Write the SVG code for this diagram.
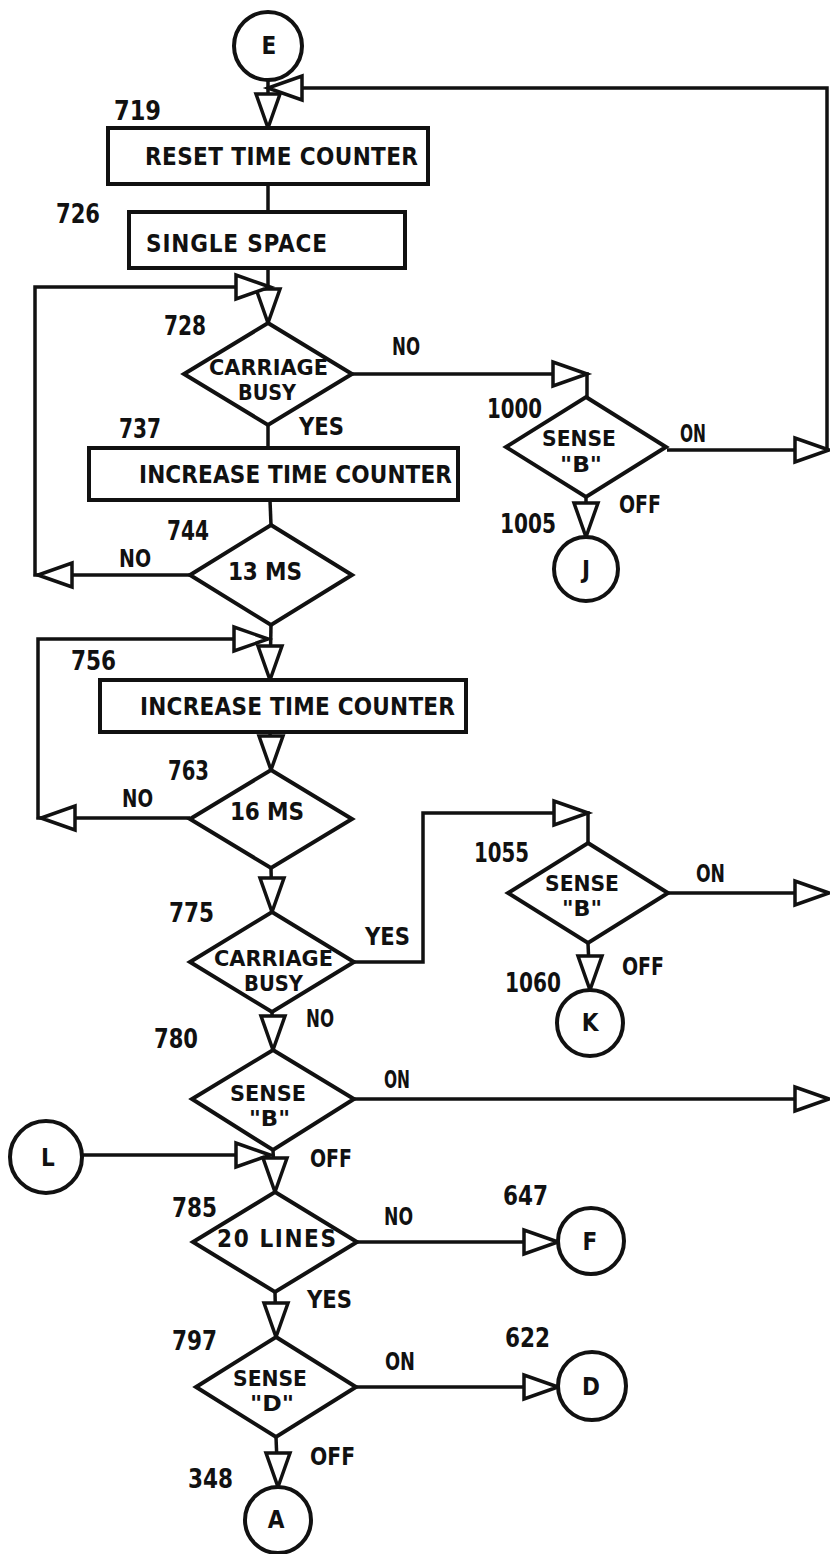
<svg xmlns="http://www.w3.org/2000/svg" xmlns:xlink="http://www.w3.org/1999/xlink" width="830" height="1554" viewBox="0 0 830 1554">
<style>
.sh{fill:#fff;stroke:#111;stroke-width:4}
.ln{fill:none;stroke:#111;stroke-width:3.5}
.ah{fill:#fff;stroke:#111;stroke-width:3.5;stroke-linejoin:miter}
text{font-family:"Liberation Sans Narrow","DejaVu Sans Condensed","Liberation Sans",sans-serif;font-weight:bold;fill:#111}
.t{font-size:24px}
.d{font-size:22px}
.n{font-size:26px}
.c{font-size:24px;text-anchor:middle}
</style>
<defs>
<polygon id="ah" class="ah" points="0,0 -34,-12 -34,12"/>
</defs>
<rect x="0" y="0" width="830" height="1554" fill="#fff"/>

<g id="connectors">
<line class="ln" x1="268" y1="80" x2="268" y2="128"/>
<polyline class="ln" points="667,450 827,450 827,88 270,88"/>
<line class="ln" x1="268" y1="184" x2="268" y2="212"/>
<line class="ln" x1="268" y1="268" x2="268" y2="323"/>
<polyline class="ln" points="190,575 35,575 35,287 268,287"/>
<polyline class="ln" points="352,374 587,374 587,397"/>
<line class="ln" x1="268" y1="425" x2="268" y2="448"/>
<line class="ln" x1="270" y1="500" x2="271" y2="525"/>
<line class="ln" x1="271" y1="625" x2="270" y2="680"/>
<polyline class="ln" points="190,818 38,818 38,639 268,639"/>
<line class="ln" x1="270" y1="732" x2="271" y2="770"/>
<line class="ln" x1="271" y1="868" x2="272" y2="912"/>
<polyline class="ln" points="354,962 423,962 423,813 588,813 588,843"/>
<line class="ln" x1="668" y1="893" x2="829" y2="893"/>
<line class="ln" x1="588" y1="943" x2="590" y2="990"/>
<line class="ln" x1="272" y1="1012" x2="273" y2="1050"/>
<line class="ln" x1="354" y1="1099" x2="829" y2="1099"/>
<line class="ln" x1="82" y1="1155" x2="270" y2="1155"/>
<line class="ln" x1="273" y1="1150" x2="275" y2="1192"/>
<line class="ln" x1="357" y1="1242" x2="558" y2="1242"/>
<line class="ln" x1="275" y1="1292" x2="276" y2="1337"/>
<line class="ln" x1="356" y1="1387" x2="558" y2="1387"/>
<line class="ln" x1="276" y1="1437" x2="278" y2="1487"/>
<line class="ln" x1="586" y1="497" x2="586" y2="537"/>
<use xlink:href="#ah" transform="translate(268,128) rotate(90)"/>
<use xlink:href="#ah" transform="translate(268,88) rotate(180)"/>
<use xlink:href="#ah" transform="translate(829,450)"/>
<use xlink:href="#ah" transform="translate(268,323) rotate(90)"/>
<use xlink:href="#ah" transform="translate(270,287)"/>
<use xlink:href="#ah" transform="translate(38,575) rotate(180)"/>
<use xlink:href="#ah" transform="translate(587,374)"/>
<use xlink:href="#ah" transform="translate(586,537) rotate(90)"/>
<use xlink:href="#ah" transform="translate(270,680) rotate(90)"/>
<use xlink:href="#ah" transform="translate(268,639)"/>
<use xlink:href="#ah" transform="translate(41,818) rotate(180)"/>
<use xlink:href="#ah" transform="translate(271,770) rotate(90)"/>
<use xlink:href="#ah" transform="translate(272,912) rotate(90)"/>
<use xlink:href="#ah" transform="translate(588,813)"/>
<use xlink:href="#ah" transform="translate(829,893)"/>
<use xlink:href="#ah" transform="translate(590,990) rotate(90)"/>
<use xlink:href="#ah" transform="translate(273,1050) rotate(90)"/>
<use xlink:href="#ah" transform="translate(829,1099)"/>
<use xlink:href="#ah" transform="translate(270,1155)"/>
<use xlink:href="#ah" transform="translate(275,1192) rotate(90)"/>
<use xlink:href="#ah" transform="translate(558,1242)"/>
<use xlink:href="#ah" transform="translate(276,1337) rotate(90)"/>
<use xlink:href="#ah" transform="translate(558,1387)"/>
<use xlink:href="#ah" transform="translate(278,1487) rotate(90)"/>
</g>

<g id="E"><circle class="sh" cx="268" cy="46" r="34"/><text class="c" x="269" y="54">E</text></g>
<g id="n719"><rect class="sh" x="108" y="128" width="320" height="56"/><text class="t" x="145" y="165" textLength="273" lengthAdjust="spacing">RESET TIME COUNTER</text><text class="n" x="114" y="120" textLength="47" lengthAdjust="spacingAndGlyphs">719</text></g>
<g id="n726"><rect class="sh" x="129" y="212" width="276" height="56"/><text class="t" x="146" y="252" textLength="181" lengthAdjust="spacing">SINGLE SPACE</text><text class="n" x="56" y="223" textLength="44" lengthAdjust="spacingAndGlyphs">726</text></g>
<g id="n728"><polygon class="sh" points="268,323 352,374 268,425 184,374"/><text class="d" x="209" y="375" textLength="119" lengthAdjust="spacingAndGlyphs">CARRIAGE</text><text class="d" x="238" y="400" textLength="58" lengthAdjust="spacingAndGlyphs">BUSY</text><text class="n" x="164" y="335" textLength="42" lengthAdjust="spacingAndGlyphs">728</text></g>
<g id="n1000"><polygon class="sh" points="586,397 666,447 586,497 506,447"/><text class="d" x="542" y="446" textLength="74" lengthAdjust="spacingAndGlyphs">SENSE</text><text class="d" x="560" y="472" textLength="42" lengthAdjust="spacingAndGlyphs">"B"</text><text class="n" x="487" y="418" textLength="55" lengthAdjust="spacingAndGlyphs">1000</text></g>
<g id="J"><circle class="sh" cx="586" cy="569" r="32"/><text class="c" x="586" y="578">J</text><text class="n" x="500" y="533" textLength="56" lengthAdjust="spacingAndGlyphs">1005</text></g>
<g id="n737"><rect class="sh" x="89" y="448" width="369" height="52"/><text class="t" x="139" y="483" textLength="313" lengthAdjust="spacing">INCREASE TIME COUNTER</text><text class="n" x="119" y="438" textLength="42" lengthAdjust="spacingAndGlyphs">737</text></g>
<g id="n744"><polygon class="sh" points="271,525 352,575 271,625 190,575"/><text class="t" x="228" y="580" textLength="74" lengthAdjust="spacing">13 MS</text><text class="n" x="167" y="540" textLength="42" lengthAdjust="spacingAndGlyphs">744</text></g>
<g id="n756"><rect class="sh" x="100" y="680" width="366" height="52"/><text class="t" x="140" y="715" textLength="315" lengthAdjust="spacing">INCREASE TIME COUNTER</text><text class="n" x="71" y="670" textLength="45" lengthAdjust="spacingAndGlyphs">756</text></g>
<g id="n763"><polygon class="sh" points="271,770 352,819 271,868 190,819"/><text class="t" x="230" y="820" textLength="74" lengthAdjust="spacing">16 MS</text><text class="n" x="168" y="780" textLength="41" lengthAdjust="spacingAndGlyphs">763</text></g>
<g id="n775"><polygon class="sh" points="272,912 354,962 272,1012 190,962"/><text class="d" x="214" y="966" textLength="119" lengthAdjust="spacingAndGlyphs">CARRIAGE</text><text class="d" x="244" y="991" textLength="59" lengthAdjust="spacingAndGlyphs">BUSY</text><text class="n" x="169" y="922" textLength="45" lengthAdjust="spacingAndGlyphs">775</text></g>
<g id="n1055"><polygon class="sh" points="588,843 668,893 588,943 508,893"/><text class="d" x="545" y="891" textLength="74" lengthAdjust="spacingAndGlyphs">SENSE</text><text class="d" x="562" y="916" textLength="40" lengthAdjust="spacingAndGlyphs">"B"</text><text class="n" x="474" y="862" textLength="55" lengthAdjust="spacingAndGlyphs">1055</text></g>
<g id="K"><circle class="sh" cx="590" cy="1023" r="33"/><text class="c" x="590" y="1031">K</text><text class="n" x="505" y="992" textLength="56" lengthAdjust="spacingAndGlyphs">1060</text></g>
<g id="n780"><polygon class="sh" points="273,1050 354,1099 273,1150 192,1099"/><text class="d" x="230" y="1101" textLength="76" lengthAdjust="spacingAndGlyphs">SENSE</text><text class="d" x="249" y="1126" textLength="41" lengthAdjust="spacingAndGlyphs">"B"</text><text class="n" x="154" y="1048" textLength="44" lengthAdjust="spacingAndGlyphs">780</text></g>
<g id="L"><circle class="sh" cx="46" cy="1157" r="36"/><text class="c" x="48" y="1166">L</text></g>
<g id="n785"><polygon class="sh" points="275,1192 357,1242 275,1292 193,1242"/><text class="t" x="217" y="1247" textLength="119" lengthAdjust="spacing">20 LINES</text><text class="n" x="172" y="1217" textLength="45" lengthAdjust="spacingAndGlyphs">785</text></g>
<g id="F"><circle class="sh" cx="591" cy="1241" r="33"/><text class="c" x="590" y="1250">F</text><text class="n" x="503" y="1205" textLength="45" lengthAdjust="spacingAndGlyphs">647</text></g>
<g id="n797"><polygon class="sh" points="276,1337 356,1387 276,1437 196,1387"/><text class="d" x="233" y="1386" textLength="74" lengthAdjust="spacingAndGlyphs">SENSE</text><text class="d" x="250" y="1411" textLength="44" lengthAdjust="spacingAndGlyphs">"D"</text><text class="n" x="172" y="1350" textLength="45" lengthAdjust="spacingAndGlyphs">797</text></g>
<g id="D"><circle class="sh" cx="592" cy="1386" r="34"/><text class="c" x="591" y="1395">D</text><text class="n" x="505" y="1347" textLength="45" lengthAdjust="spacingAndGlyphs">622</text></g>
<g id="A"><circle class="sh" cx="278" cy="1520" r="33"/><text class="c" x="276" y="1528">A</text><text class="n" x="188" y="1488" textLength="45" lengthAdjust="spacingAndGlyphs">348</text></g>

<g id="edge-labels">
<text class="t" x="392" y="355" textLength="28" lengthAdjust="spacingAndGlyphs">NO</text>
<text class="t" x="299" y="435" textLength="45" lengthAdjust="spacingAndGlyphs">YES</text>
<text class="t" x="680" y="442" textLength="26" lengthAdjust="spacingAndGlyphs">ON</text>
<text class="t" x="619" y="513" textLength="42" lengthAdjust="spacingAndGlyphs">OFF</text>
<text class="t" x="119" y="567" textLength="32" lengthAdjust="spacingAndGlyphs">NO</text>
<text class="t" x="122" y="807" textLength="31" lengthAdjust="spacingAndGlyphs">NO</text>
<text class="t" x="696" y="882" textLength="29" lengthAdjust="spacingAndGlyphs">ON</text>
<text class="t" x="365" y="945" textLength="45" lengthAdjust="spacingAndGlyphs">YES</text>
<text class="t" x="622" y="975" textLength="42" lengthAdjust="spacingAndGlyphs">OFF</text>
<text class="t" x="306" y="1027" textLength="28" lengthAdjust="spacingAndGlyphs">NO</text>
<text class="t" x="384" y="1088" textLength="26" lengthAdjust="spacingAndGlyphs">ON</text>
<text class="t" x="310" y="1167" textLength="42" lengthAdjust="spacingAndGlyphs">OFF</text>
<text class="t" x="384" y="1225" textLength="29" lengthAdjust="spacingAndGlyphs">NO</text>
<text class="t" x="307" y="1308" textLength="45" lengthAdjust="spacingAndGlyphs">YES</text>
<text class="t" x="385" y="1370" textLength="30" lengthAdjust="spacingAndGlyphs">ON</text>
<text class="t" x="310" y="1465" textLength="45" lengthAdjust="spacingAndGlyphs">OFF</text>
</g>
</svg>
